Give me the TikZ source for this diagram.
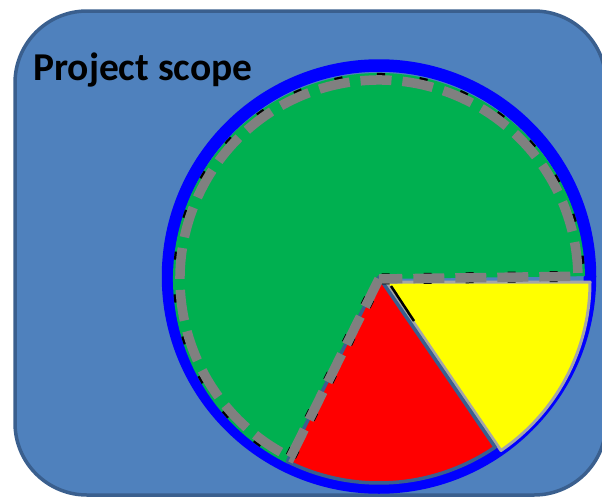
\documentclass[tikz,border=0pt]{standalone}
\usepackage{fontspec}
\setmainfont{Carlito}
\definecolor{panelfill}{HTML}{4F81BD}
\definecolor{paneledge}{HTML}{3A5F8E}
\definecolor{ringblue}{HTML}{0000FF}
\definecolor{slicegreen}{HTML}{00B050}
\definecolor{slicered}{HTML}{FF0000}
\definecolor{sliceyellow}{HTML}{FFFF00}
\definecolor{dashgray}{HTML}{808080}
\definecolor{lightedge}{HTML}{A6A6A6}
\tikzset{
  panel/.style={fill=panelfill, draw=paneledge, line width=3.5pt, rounded corners=72pt},
  ring/.style={draw=ringblue, line width=12.5pt},
  greendash/.style={draw=dashgray, line width=9.5pt, dash pattern=on 31pt off 11pt},
  blackdash/.style={draw=black, line width=11pt, dash pattern=on 8pt off 34pt, dash phase=20pt},
  redslice/.style={fill=slicered, draw=paneledge, line width=3.5pt, line join=round},
  yellowslice/.style={fill=sliceyellow, draw=lightedge, line width=3pt, line join=round},
}
\begin{document}
\begin{tikzpicture}[x=1pt,y=-1pt]
\useasboundingbox (0,0) rectangle (602,498);
\clip (0,0) rectangle (602,498);
\draw[panel] (15,11) rectangle (606,495);
\node[anchor=base west, inner sep=0pt, font=\bfseries\fontsize{39.5}{42}\selectfont] (title) at (33,80) {Project scope};
% circle ring
\coordinate (c) at (379,276.5);
\draw[ring] (c) circle[radius=211];
% green slice fill
\coordinate (g) at (379,279);
\fill[slicegreen] (g) -- ++(116.4:206) arc[start angle=116.4, end angle=359.2, radius=206] -- cycle;
% yellow slice (slightly exploded)
\coordinate (y) at (386,282);
\draw[yellowslice] (y) -- ++(0:204) arc[start angle=0, end angle=55.7, radius=204] -- cycle;
% red slice
\coordinate (r) at (379,277);
\draw[redslice] (r) -- ++(55.7:206) arc[start angle=55.7, end angle=116.4, radius=206] -- cycle;
% green slice outlines
\draw[blackdash] (g) -- ++(116.4:200.5) arc[start angle=116.4, end angle=359.2, radius=200.5] -- cycle;
\draw[greendash] (g) -- ++(116.4:199) arc[start angle=116.4, end angle=359.2, radius=199] -- cycle;
% short black segment at yellow apex
\coordinate (s1) at (391,286);
\coordinate (s2) at (414,321);
\draw[black, line width=2.5pt] (s1) -- (s2);
\end{tikzpicture}
\end{document}
